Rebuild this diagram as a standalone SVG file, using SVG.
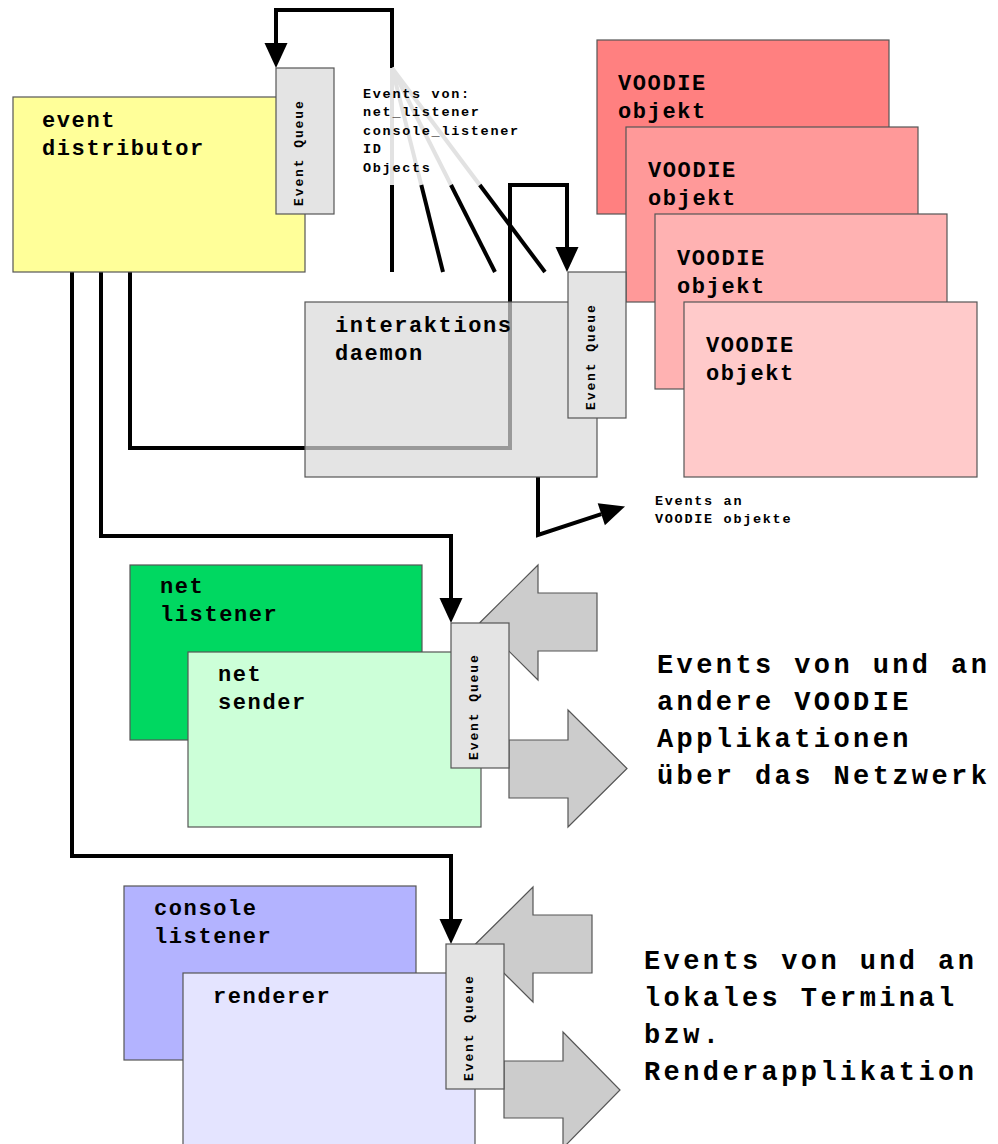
<svg xmlns="http://www.w3.org/2000/svg" width="998" height="1144" viewBox="0 0 998 1144">
<style>
.box{stroke:#555;stroke-width:1.2}
.q{fill:#e4e4e4;stroke:#555;stroke-width:1.2}
.lbl{font-family:"Liberation Mono","Courier New",monospace;font-weight:bold;font-size:22px;letter-spacing:1.6px;fill:#000}
.qt{font-family:"Liberation Mono","Courier New",monospace;font-weight:bold;font-size:13px;letter-spacing:1.9px;fill:#000}
.sm{font-family:"Liberation Mono","Courier New",monospace;font-weight:bold;font-size:13.5px;letter-spacing:1.7px;fill:#000}
.big{font-family:"Liberation Mono","Courier New",monospace;font-weight:bold;font-size:27px;letter-spacing:3.4px;fill:#000}
.c{fill:none;stroke:#000;stroke-width:4}
.fan{fill:none;stroke:#e2e2e2;stroke-width:4}
.blk{fill:#cccccc;stroke:#555;stroke-width:1.2}
</style>
<defs>
<marker id="ah" markerUnits="userSpaceOnUse" markerWidth="26" markerHeight="24" refX="0" refY="11.5" orient="auto" overflow="visible">
<path d="M0,0 L25,11.5 L0,23 z" fill="#000"/>
</marker>
</defs>

<g id="connectors">
<path class="c" d="M392,68 V10 H276 V43" marker-end="url(#ah)"/>
<line class="fan" x1="392" y1="68" x2="392" y2="186"/>
<line class="fan" x1="392" y1="68" x2="421.5" y2="186"/>
<line class="fan" x1="392" y1="68" x2="451.5" y2="186"/>
<line class="fan" x1="392" y1="68" x2="480.5" y2="186"/>
<line class="c" x1="392" y1="185" x2="392" y2="272"/>
<line class="c" x1="421.3" y1="185" x2="443" y2="272"/>
<line class="c" x1="451" y1="185" x2="495" y2="272"/>
<line class="c" x1="479.8" y1="185" x2="545" y2="272"/>
<path class="c" d="M130,272 V448 H510 V185 H567 V247" marker-end="url(#ah)"/>
<path class="c" d="M101,272 V536 H451 V598" marker-end="url(#ah)"/>
<path class="c" d="M72,272 V856 H451 V919" marker-end="url(#ah)"/>
<path class="c" d="M538,477 V535 L601.3,514.2" marker-end="url(#ah)"/>
</g>

<g id="event-distributor">
<rect class="box" x="13" y="97" width="292" height="175" fill="#ffff99"/>
<text class="lbl" x="42" y="127">event</text>
<text class="lbl" x="42" y="155">distributor</text>
</g>
<g id="event-distributor-queue">
<rect class="q" x="276" y="68" width="58" height="146"/>
<text class="qt" transform="translate(303,206) rotate(-90)">Event Queue</text>
</g>

<g id="voodie-objekt-1">
<rect class="box" x="597" y="40" width="292" height="174" fill="#ff8080"/>
<text class="lbl" x="618" y="90">VOODIE</text>
<text class="lbl" x="618" y="118">objekt</text>
</g>
<g id="voodie-objekt-2">
<rect class="box" x="626" y="127" width="292" height="175" fill="#ff9999"/>
<text class="lbl" x="648" y="177">VOODIE</text>
<text class="lbl" x="648" y="205">objekt</text>
</g>
<g id="voodie-objekt-3">
<rect class="box" x="655" y="214" width="292" height="175" fill="#ffb2b2"/>
<text class="lbl" x="677" y="265">VOODIE</text>
<text class="lbl" x="677" y="293">objekt</text>
</g>
<g id="voodie-objekt-4">
<rect class="box" x="684" y="302" width="293" height="175" fill="#ffcaca"/>
<text class="lbl" x="706" y="352">VOODIE</text>
<text class="lbl" x="706" y="380">objekt</text>
</g>

<g id="interaktions-daemon">
<rect x="305" y="302" width="292" height="175" fill="#d9d9d9" fill-opacity="0.706" stroke="#555" stroke-width="1.2"/>
<text class="lbl" x="335" y="332">interaktions</text>
<text class="lbl" x="335" y="360">daemon</text>
</g>
<g id="interaktions-daemon-queue">
<rect class="q" x="568" y="272" width="58" height="146"/>
<text class="qt" transform="translate(595,410) rotate(-90)">Event Queue</text>
</g>

<g id="labels">
<text class="sm" x="363" y="98">Events von:</text>
<text class="sm" x="363" y="116">net_listener</text>
<text class="sm" x="363" y="134.5">console_listener</text>
<text class="sm" x="363" y="153">ID</text>
<text class="sm" x="363" y="171.5">Objects</text>
<text class="sm" x="655" y="505">Events an</text>
<text class="sm" x="655" y="523">VOODIE objekte</text>
<text class="big" x="657" y="673">Events von und an</text>
<text class="big" x="657" y="710">andere VOODIE</text>
<text class="big" x="657" y="747">Applikationen</text>
<text class="big" x="657" y="784">über das Netzwerk</text>
<text class="big" x="644" y="969">Events von und an</text>
<text class="big" x="644" y="1006">lokales Terminal</text>
<text class="big" x="644" y="1043">bzw.</text>
<text class="big" x="644" y="1080">Renderapplikation</text>
</g>

<g id="net-listener">
<rect class="box" x="130" y="565" width="292" height="175" fill="#00d861"/>
<text class="lbl" x="160" y="593">net</text>
<text class="lbl" x="160" y="621">listener</text>
</g>
<g id="net-sender">
<rect class="box" x="188" y="652" width="293" height="175" fill="#ccffd8"/>
<text class="lbl" x="218" y="681">net</text>
<text class="lbl" x="218" y="709">sender</text>
</g>
<g id="net-transfer-arrows">
<polygon class="blk" points="480,622.5 538,565 538,593 597,593 597,651 538,651 538,680"/>
<polygon class="blk" points="509,740 568,740 568,710 627,768.5 568,827 568,798 509,798"/>
</g>
<g id="net-queue">
<rect class="q" x="451" y="623" width="58" height="145"/>
<text class="qt" transform="translate(478,760) rotate(-90)">Event Queue</text>
</g>

<g id="console-listener">
<rect class="box" x="124" y="886" width="292" height="174" fill="#b3b3ff"/>
<text class="lbl" x="154" y="915">console</text>
<text class="lbl" x="154" y="943">listener</text>
</g>
<g id="renderer">
<rect class="box" x="183" y="973" width="292" height="180" fill="#e4e4ff"/>
<text class="lbl" x="213" y="1003">renderer</text>
</g>
<g id="console-transfer-arrows">
<polygon class="blk" points="475,944.5 533,887 533,915 592,915 592,973 533,973 533,1002"/>
<polygon class="blk" points="504,1061 563,1061 563,1032 620,1090 563,1148 563,1118 504,1118"/>
</g>
<g id="console-queue">
<rect class="q" x="446" y="944" width="58" height="145"/>
<text class="qt" transform="translate(473,1081) rotate(-90)">Event Queue</text>
</g>
</svg>
